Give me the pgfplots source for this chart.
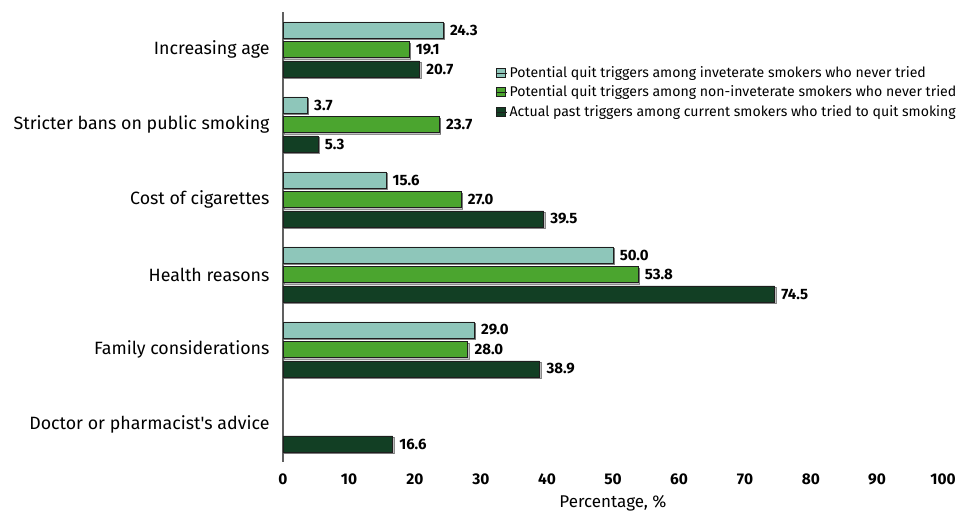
\documentclass[border=0pt]{standalone}
\usepackage{pgfplots}
\pgfplotsset{compat=1.18}
\usepackage{fontspec}
\setmainfont{Fira Sans}
\usetikzlibrary{shadows}

\definecolor{cLight}{HTML}{8EC6BA}
\definecolor{cMid}{HTML}{4BA52F}
\definecolor{cDark}{HTML}{123F24}
\definecolor{cEdge}{HTML}{1E1E1E}

\begin{document}
\begin{tikzpicture}
  \begin{axis}[
    at={(0,0)}, anchor=south west,
    scale only axis,
    width=660pt, height=450pt,
    xbar,
    bar width=16pt,
    xmin=0, xmax=100,
    ymin=-0.5, ymax=5.5,
    xtick={0,10,...,100},
    ytick={0,1,2,3,4,5},
    yticklabels={Doctor or pharmacist\textquotesingle s advice, Family considerations,
      Health reasons, Cost of cigarettes, Stricter bans on public smoking,
      Increasing age},
    major tick length=0pt,
    axis lines=left,
    x axis line style={draw=none},
    y axis line style={-, draw=gray!75!black, line width=1.3pt},
    /pgf/number format/assume math mode=true,
    x tick label style={font=\fontsize{15.5}{17}\selectfont\bfseries, yshift=-8pt},
    y tick label style={font=\fontsize{17.8}{20}\selectfont, xshift=-10pt},
    xlabel={Percentage, \%},
    every axis x label/.style={at={(axis description cs:0.5,0)}, anchor=center,
      yshift=-41pt, font=\fontsize{17}{20}\selectfont},
    nodes near coords,
    nodes near coords style={font=\fontsize{15}{17}\selectfont\bfseries, xshift=3pt,
      /pgf/number format/.cd, fixed, fixed zerofill, precision=1,
      assume math mode=true},
    legend style={draw=none, fill=none, at={(axis description cs:0.321,0.886)},
      anchor=north west, font=\fontsize{14.1}{17}\selectfont, row sep=3pt,
      inner sep=1pt},
    legend cell align=left,
    legend image code/.code={\draw[#1, line width=0.8pt] (0pt,-4.5pt) rectangle (9pt,4.5pt);
      \path (0pt,0pt) -- (11pt,0pt);},
    shadowed/.style={drop shadow={shadow xshift=1.5pt, shadow yshift=-1.5pt, opacity=0.5}},
  ]
    % inveterate smokers who never tried
    \addplot[forget plot, fill=cLight, draw=cEdge, line width=0.9pt, bar shift=19.5pt, shadowed]
      coordinates {(24.3,5) (3.7,4) (15.6,3) (50.0,2) (29.0,1)};
    % non-inveterate smokers who never tried
    \addplot[forget plot, fill=cMid, draw=cEdge, line width=0.9pt, bar shift=0pt, shadowed]
      coordinates {(19.1,5) (23.7,4) (27.0,3) (53.8,2) (28.0,1)};
    % current smokers who tried to quit
    \addplot[forget plot, fill=cDark, draw=cEdge, line width=0.9pt, bar shift=-19.5pt, shadowed]
      coordinates {(20.7,5) (5.3,4) (39.5,3) (74.5,2) (38.9,1) (16.6,0)};
    \addlegendimage{fill=cLight, draw=cEdge}
    \addlegendimage{fill=cMid, draw=cEdge}
    \addlegendimage{fill=cDark, draw=cEdge}
    \legend{Potential quit triggers among inveterate smokers who never tried,
      Potential quit triggers among non-inveterate smokers who never tried,
      Actual past triggers among current smokers who tried to quit smoking}
  \end{axis}
  \pgfresetboundingbox
  \path (-283pt,-51pt) rectangle (674pt,462pt);
\end{tikzpicture}
\end{document}
